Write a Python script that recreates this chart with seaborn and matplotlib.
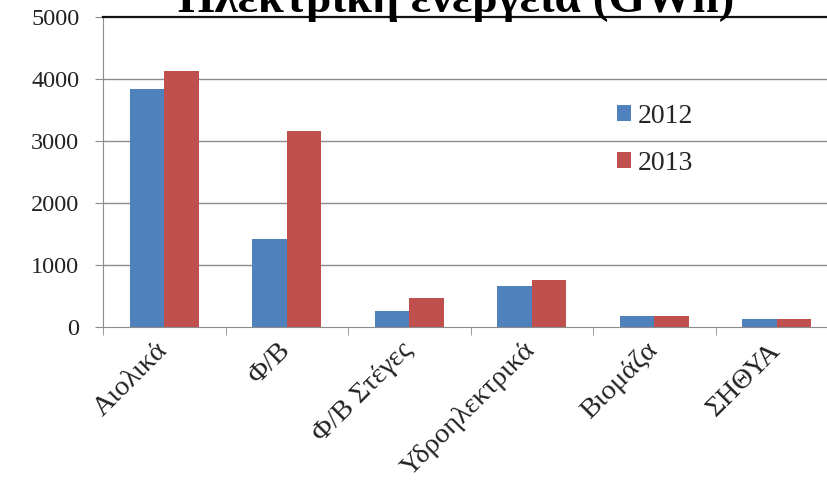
import pandas as pd
import seaborn as sns
from matplotlib import pyplot as plt

# Data (GWh)
categories = ["Αιολικά", "Φ/Β", "Φ/Β Στέγες", "Υδροηλεκτρικά", "Βιομάζα", "ΣΗΘΥΑ"]
years = ["2012", "2013"]
values_2012 = [3835, 1420, 260, 665, 170, 124]
values_2013 = [4135, 3160, 470, 760, 185, 124]
yticks = [0, 1000, 2000, 3000, 4000, 5000]
title = "Ηλεκτρική ενέργεια (GWh)"

df = pd.DataFrame({
    "Category": categories * 2,
    "Year": [years[0]] * len(categories) + [years[1]] * len(categories),
    "GWh": values_2012 + values_2013,
})

sns.set_style("white")
plt.rcParams["font.family"] = ["Liberation Serif", "DejaVu Serif"]

fig = plt.figure(figsize=(8.27, 4.90), dpi=100)
ax = fig.add_axes([103 / 827, 163 / 490, (838 - 103) / 827, 310 / 490])

grid_c = "#8c8c8c"
for y in yticks[1:-1]:
    ax.axhline(y, color=grid_c, lw=1.0, zorder=0)

sns.barplot(data=df, x="Category", y="GWh", hue="Year", order=categories,
            palette=["#4F81BD", "#C0504D"], width=0.56, gap=0,
            saturation=1, linewidth=0, ax=ax, zorder=2)

ax.set_xlim(-0.5, len(categories) - 0.5)
ax.set_ylim(0, 5000)
ax.set_yticks(yticks)
ax.set_xlabel("")
ax.set_ylabel("")

ax.spines["right"].set_visible(False)
ax.spines["top"].set_color("#111111")
ax.spines["top"].set_linewidth(1.6)
ax.spines["left"].set_color(grid_c)
ax.spines["bottom"].set_color(grid_c)

ax.tick_params(axis="y", which="major", left=True, length=6, color=grid_c,
               labelsize=17.5, pad=11, labelcolor="#222222")
ax.set_xticks([i - 0.5 for i in range(len(categories) + 1)], minor=True)
ax.tick_params(axis="x", which="minor", bottom=True, length=6, color=grid_c)
ax.tick_params(axis="x", which="major", bottom=False, length=0, pad=14,
               labelsize=20.5, labelcolor="#222222")
for lbl in ax.get_xticklabels():
    lbl.set_rotation(45)
    lbl.set_ha("right")
    lbl.set_va("center")
    lbl.set_rotation_mode("anchor")

leg = ax.legend(loc="upper left", bbox_to_anchor=(0.665, 0.80), frameon=False,
                fontsize=20, handlelength=0.5, handleheight=0.5,
                handletextpad=0.25, labelspacing=0.8)

fig.text(456 / 827, (490 - 12) / 490, title, ha="center", va="baseline",
         fontsize=34, fontweight="bold", color="black")

fig.savefig("out.png", dpi=100)
